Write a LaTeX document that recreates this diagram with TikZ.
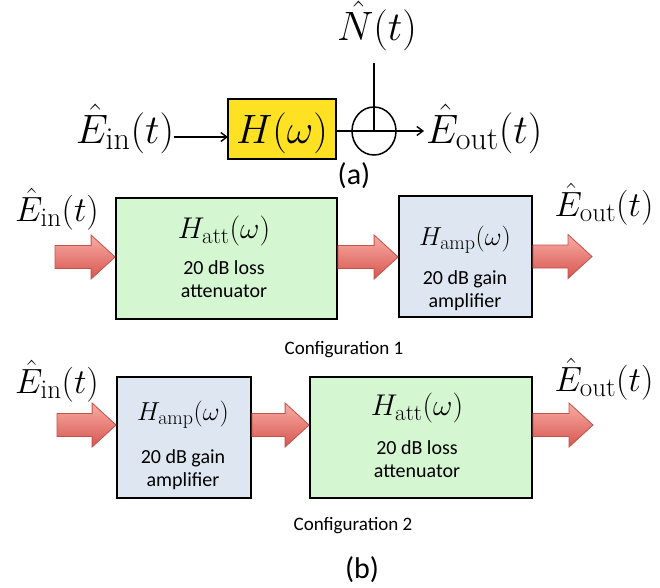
\RequirePackage{fix-cm}
\documentclass[tikz,border=0pt]{standalone}
\usepackage{fontspec}
\newfontfamily\calibri{Carlito}
\usetikzlibrary{calc,arrows.meta,shapes.geometric}
\DeclareMathSizes{41}{41}{32}{25}
\DeclareMathSizes{35}{35}{27}{21}
\DeclareMathSizes{30}{30}{23}{18}
\DeclareMathSizes{26}{26}{20}{16}
\definecolor{ayellow}{RGB}{255,225,35}
\definecolor{agreen}{RGB}{212,246,208}
\definecolor{ablue}{RGB}{221,230,241}
\definecolor{rtop}{RGB}{249,172,164}
\definecolor{rbot}{RGB}{214,86,80}
\definecolor{redge}{RGB}{196,82,76}
\newcommand{\fatarrow}[2]{\path[fatarr] let \p1=(#1), \p2=(#2) in
  (\x1,\y1+11.5pt) -- (\x2-24pt,\y1+11.5pt) -- (\x2-24pt,\y1+22pt) -- (\x2,\y1)
  -- (\x2-24pt,\y1-22pt) -- (\x2-24pt,\y1-11.5pt) -- (\x1,\y1-11.5pt) -- cycle;}
\begin{document}
\begin{tikzpicture}[x=1pt,y=-1pt,
  bigmath/.style={inner sep=0pt,anchor=base,font=\fontsize{41}{46}\selectfont},
  lab/.style={inner sep=0pt,anchor=base,font=\fontsize{35}{40}\selectfont},
  hatt/.style={inner sep=0pt,font=\fontsize{30}{34}\selectfont},
  hamp/.style={inner sep=0pt,font=\fontsize{26}{30}\selectfont},
  desc/.style={inner sep=0pt,align=center,font=\calibri\fontsize{20}{23}\selectfont},
  gbox/.style={draw=black,line width=1.8pt,fill=agreen,minimum height=121pt},
  bbox/.style={draw=black,line width=1.8pt,fill=ablue,minimum height=121pt},
  sig/.style={line width=1.4pt},
  fatarr/.style={top color=rtop,bottom color=rbot,draw=redge,line width=0.8pt}]
\useasboundingbox (0,0) rectangle (660,587);
% ---------- (a) ----------
\node[draw=black,line width=1.8pt,fill=ayellow,minimum width=108pt,minimum height=60pt] (hbox) at (282,129) {};
\node[bigmath] (hlab) at (282,143) {$H(\omega)$};
\node[bigmath] (ein) at (125,143) {$\hat{E}_{\mathrm{in}}(t)$};
\node[bigmath] (nlab) at (377,40) {$\hat{N}(t)$};
\node[bigmath,anchor=base west] (eout) at (426,143) {$\hat{E}_{\mathrm{out}}(t)$};
\node[draw=black,line width=1.5pt,ellipse,minimum width=44pt,minimum height=48pt,inner sep=0pt] (sum) at (374,131) {};
\coordinate (hin) at (228,137);
\coordinate (ntop) at (374,63);
\draw[sig,-{Straight Barb[length=6pt,width=9pt]}] (ein.east |- hin) -- (hin);
\draw[sig] (hbox.east |- sum.center) -- (sum.center);
\draw[sig] (ntop) -- (sum.center);
\draw[sig,-{Straight Barb[length=6pt,width=9pt]}] (sum.center) -- ($(eout.west |- sum.center)+(-2,0)$);
\node[inner sep=0pt,font=\calibri\fontsize{30}{34}\selectfont] (alab) at (354,176) {(a)};
% ---------- configuration 1 ----------
\node[gbox,minimum width=221pt] (att1) at (226.5,258.5) {};
\node[bbox,minimum width=133pt] (amp1) at (465.5,256.5) {};
\node[hatt] (att1h) at (224,231) {$H_{\mathrm{att}}(\omega)$};
\node[desc] (att1t) at (224,279) {20 dB loss\\attenuator};
\node[hamp] (amp1h) at (465,240) {$H_{\mathrm{amp}}(\omega)$};
\node[desc] (amp1t) at (465,290.5) {20 dB gain\\amplifier};
\node[lab] (ein1) at (57,221) {$\hat{E}_{\mathrm{in}}(t)$};
\node[lab] (eout1) at (604,216) {$\hat{E}_{\mathrm{out}}(t)$};
\coordinate (in1) at (55,257);
\coordinate (out1) at (592,257);
\fatarrow{in1}{att1.west}
\fatarrow{$(att1.east)+(0,-1.5)$}{amp1.west}
\fatarrow{amp1.east}{out1}
\node[inner sep=0pt,font=\calibri\fontsize{19}{22}\selectfont] (c1) at (344,350) {Configuration 1};
% ---------- configuration 2 ----------
\node[bbox,minimum width=134pt] (amp2) at (184,437.5) {};
\node[gbox,minimum width=222pt] (att2) at (421,437.5) {};
\node[hamp] (amp2h) at (183,415) {$H_{\mathrm{amp}}(\omega)$};
\node[desc] (amp2t) at (183,470) {20 dB gain\\amplifier};
\node[hatt] (att2h) at (417,408) {$H_{\mathrm{att}}(\omega)$};
\node[desc] (att2t) at (417,459) {20 dB loss\\attenuator};
\node[lab] (ein2) at (57,393) {$\hat{E}_{\mathrm{in}}(t)$};
\node[lab] (eout2) at (604,391) {$\hat{E}_{\mathrm{out}}(t)$};
\coordinate (in2) at (57,425);
\coordinate (out2) at (593,425);
\fatarrow{in2}{amp2.west}
\fatarrow{$(amp2.east)+(0,-12.5)$}{att2.west}
\fatarrow{$(att2.east)+(0,-12.5)$}{out2}
\node[inner sep=0pt,font=\calibri\fontsize{19}{22}\selectfont] (c2) at (353,526) {Configuration 2};
\node[inner sep=0pt,font=\calibri\fontsize{30}{34}\selectfont] (blab) at (362,570) {(b)};
\end{tikzpicture}
\end{document}
